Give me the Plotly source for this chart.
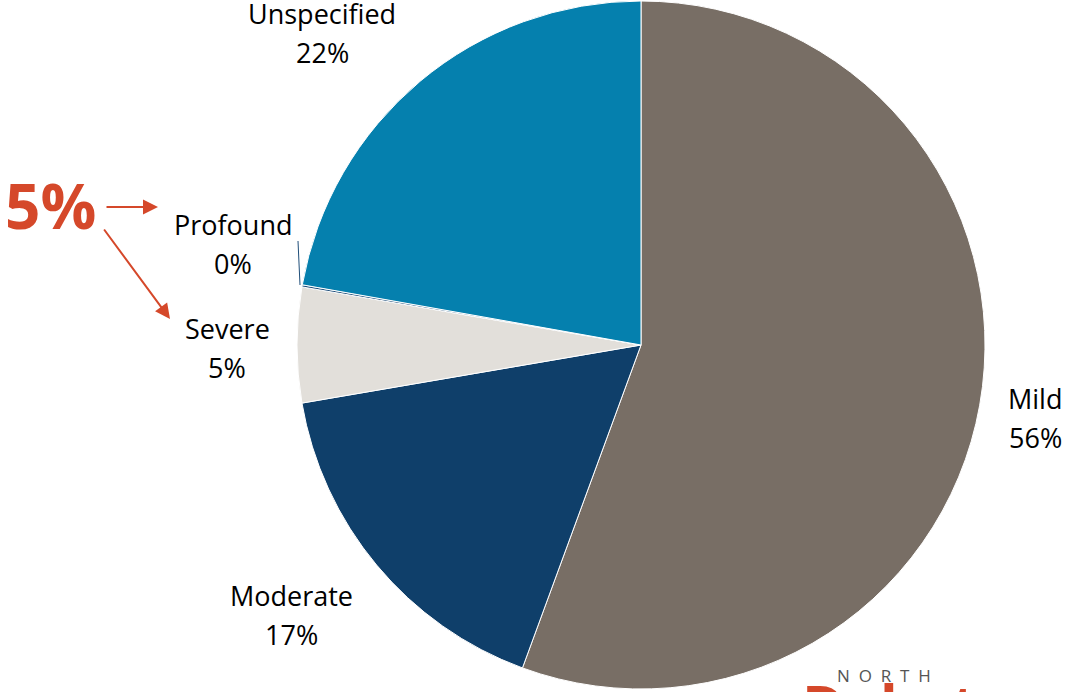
import plotly.graph_objects as go

categories = ["Mild", "Moderate", "Severe", "Profound", "Unspecified"]
values = [55.6, 16.7, 5.4, 0.1, 22.2]
colors = ["#786E65", "#0F3F6A", "#E2DFDA", "#1F4E79", "#0580AE"]

# label anchor positions (pixels in a 1076x692 canvas): name line
label_pos = {
    "Mild": (1035, 398),
    "Moderate": (291, 595),
    "Severe": (227, 328),
    "Profound": (233, 224),
    "Unspecified": (322, 13),
}

W, H = 1076, 692
cx, cy, r = 641, 345, 344

fig = go.Figure(go.Pie(
    labels=categories, values=values, sort=False, direction="clockwise",
    rotation=0, textinfo="none", hoverinfo="label+percent",
    marker=dict(colors=colors, line=dict(color="white", width=1)),
    domain=dict(x=[(cx - r) / W, (cx + r) / W],
                y=[max(0, (H - cy - r) / H), min(1, (H - cy + r) / H)]),
    showlegend=False,
))

def px(x):
    return x / W

def py(y):
    return 1 - y / H

annotations = []
font = dict(family="Open Sans, Noto Sans, sans-serif", size=27, color="#000000")
for cat, v in zip(categories, values):
    x, y = label_pos[cat]
    annotations.append(dict(x=px(x), y=py(y), xref="paper", yref="paper", text=cat,
                            showarrow=False, font=font, xanchor="center", yanchor="middle"))
    annotations.append(dict(x=px(x), y=py(y + 39), xref="paper", yref="paper",
                            text=f"{round(v):.0f}%", showarrow=False, font=font,
                            xanchor="center", yanchor="middle"))

red = "#D5482A"
annotations.append(dict(x=px(50), y=py(205), xref="paper", yref="paper", text="<b>5%</b>",
                        showarrow=False, xanchor="center", yanchor="middle",
                        font=dict(family="Open Sans, sans-serif", size=62, color=red)))
annotations.append(dict(x=px(158), y=py(207), xref="paper", yref="paper", text="",
                        showarrow=True, ax=-53, ay=0, arrowhead=2, arrowsize=1.5,
                        arrowwidth=2, arrowcolor=red, standoff=0))
annotations.append(dict(x=px(170), y=py(319), xref="paper", yref="paper", text="",
                        showarrow=True, ax=-67, ay=-91, arrowhead=2, arrowsize=1.5,
                        arrowwidth=2, arrowcolor=red, standoff=0))
annotations.append(dict(x=px(884), y=py(675), xref="paper", yref="paper",
                        text="N\u00a0\u00a0O\u00a0\u00a0R\u00a0\u00a0T\u00a0\u00a0H", showarrow=False,
                        xanchor="center", yanchor="middle",
                        font=dict(family="Open Sans, sans-serif", size=17, color="#555555")))
annotations.append(dict(x=px(800), y=py(704), xref="paper", yref="paper",
                        text="<b>Dakota</b>", showarrow=False, xanchor="left", yanchor="middle",
                        font=dict(family="Open Sans, sans-serif", size=58, color=red)))

fig.update_layout(
    width=W, height=H, margin=dict(l=0, r=0, t=0, b=0),
    paper_bgcolor="white", plot_bgcolor="white",
    annotations=annotations,
    shapes=[dict(type="line", xref="paper", yref="paper", x0=px(300), y0=py(285),
                 x1=px(298), y1=py(241), line=dict(color="#1F4E79", width=1))],
)

fig.write_html("out.html", config={"displayModeBar": False},
               post_script="document.body.style.margin='0';document.body.style.overflow='hidden';")
